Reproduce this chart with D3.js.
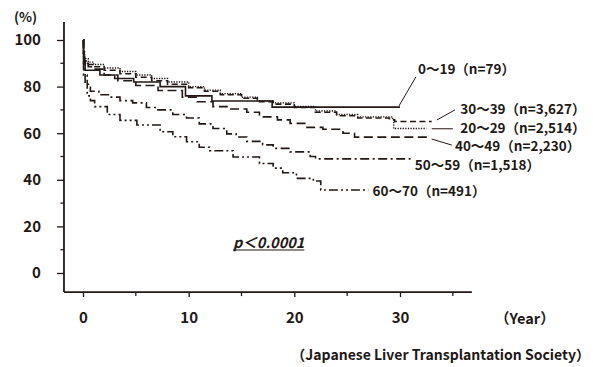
<!DOCTYPE html>
<html>
<head>
<meta charset="utf-8">
<script src="https://cdn.jsdelivr.net/npm/d3@7"></script>
<style>
  body { margin: 0; background: #fff; }
  text { font-family: "Noto Sans CJK JP", "Noto Sans", sans-serif; fill: #231815; }
</style>
</head>
<body>
<div id="chart"></div>
<script>
// survival curves, [year, %] step points
var age0_19 = [[0,100],[0.05,95],[0.1,91],[0.2,87],[1.6,85],[3.0,83.5],[4.8,82],[7.3,80],[9.7,76],[12.2,73.8],[17.9,71.2],[30,71.2]];
var age20_29 = [[0,100],[0.05,95],[0.15,92],[0.5,90.5],[1,89.5],[2,88],[3.5,86.5],[5,85],[6.5,83.5],[8,82],[10,80],[11.5,78.5],[13,77],[15,75.5],[16.5,74],[18,73],[20,71.5],[22,69.5],[24,68],[26,67],[29.3,66],[29.4,62],[32.5,62]];
var age30_39 = [[0,100],[0.05,94],[0.15,91],[0.5,89.5],[1,88.5],[2,87],[3.5,85.5],[5,84],[6.5,82.5],[8,81],[10,79.5],[11.5,78],[13,76.5],[15,75],[16.5,73.5],[18,72.5],[20,71],[22,69],[24,67.5],[26,66.5],[29,65.8],[29.5,65],[33,65]];
var age40_49 = [[0,100],[0.05,93],[0.15,90],[0.5,88.5],[1,87.5],[2,85],[3.3,82.5],[5,80.5],[7.1,78.3],[9.4,75.5],[10.8,73.5],[12.3,71.4],[13.9,70.4],[15.5,69],[16.7,67],[18.4,65.7],[19.6,64.2],[21.2,62.5],[22.7,61.7],[24.6,60],[25.7,58.3],[32.6,58.3]];
var age50_59 = [[0,100],[0.05,90],[0.2,81],[0.7,78],[1.5,76.5],[2.5,75.5],[3.5,74],[4.7,73],[6,71],[7,70],[8.5,68],[9.8,66.5],[11,64],[12.3,62],[13.6,59.7],[14.5,58.4],[15.5,56.5],[17,55],[18,53.5],[19.6,52],[21.5,50],[22,49],[31,49]];
var age60_70 = [[0,100],[0.05,85],[0.4,76],[0.7,74],[1.1,71.4],[2.3,68],[3.5,65.5],[5.1,63.5],[7.3,60.6],[8.5,58.5],[9.8,56.3],[11,54],[12,52.5],[14.2,49.8],[16.7,47],[18,45],[18.9,43],[20.2,40.6],[21.8,39.5],[22.5,35.6],[27,35.6]];

var groupNames = ["0〜19（n=79）", "20〜29（n=2,514）", "30〜39（n=3,627）", "40〜49（n=2,230）", "50〜59（n=1,518）", "60〜70（n=491）"];
var groupCurves = [age0_19, age20_29, age30_39, age40_49, age50_59, age60_70];
// label anchor [year, %] and leader line [from year, from %, to year, to %]
var labelPos = [[31.7,87.5],[35.7,62.2],[35.7,70.4],[35.2,54.5],[31.4,46.4],[27.4,35.2]];
var leaders = [[31.5,84.1,29.9,71.7],[35.0,61.9,33.0,61.9],[35.2,70.0,33.5,65.7],[34.9,54.9,33.0,57.5],null,null];

var yTicks = [0, 20, 40, 60, 80, 100];
var yMinor = [10, 30, 50, 70, 90];
var xTicks = [0, 10, 20, 30];
var xMinor = [5, 15, 25, 35];

var dashes = [null, "1.3,1.3", "6,3.5", "9,4.5", "9,3.5,2,3.5", "9,3,2,3,2,3"];

var svgWidth = 593, svgHeight = 367;
var ink = "#231815";

var svg = d3.select("#chart").append("svg")
  .attr("width", svgWidth)
  .attr("height", svgHeight);

var x = d3.scaleLinear().domain([0, 30]).range([83, 400]);
var y = d3.scaleLinear().domain([0, 100]).range([273, 40]);

// y axis
var yAxis = svg.append("g")
  .attr("transform", "translate(" + x(-1.8) + ",0)")
  .call(d3.axisLeft(y).tickValues(yTicks).tickSize(7).tickPadding(16));
yAxis.select(".domain").remove();
yAxis.selectAll(".tick line").attr("stroke", ink).attr("stroke-width", 1.3);
yAxis.selectAll(".tick text")
  .style("font-size", "15px").style("font-weight", 700).attr("fill", ink);
svg.append("g").selectAll("line")
  .data(yMinor).enter().append("line")
  .attr("x1", x(-1.8) - 3.5).attr("x2", x(-1.8))
  .attr("y1", d => y(d)).attr("y2", d => y(d))
  .attr("stroke", ink).attr("stroke-width", 1.3);
svg.append("line")
  .attr("x1", x(-1.8)).attr("x2", x(-1.8))
  .attr("y1", y(107.7)).attr("y2", y(-8.2))
  .attr("stroke", ink).attr("stroke-width", 1.8);

// x axis
var xAxis = svg.append("g")
  .attr("transform", "translate(0," + y(-8.2) + ")")
  .call(d3.axisBottom(x).tickValues(xTicks).tickSize(5).tickPadding(15).tickFormat(d3.format("d")));
xAxis.select(".domain").remove();
xAxis.selectAll(".tick line").attr("stroke", ink).attr("stroke-width", 1.3);
xAxis.selectAll(".tick text")
  .style("font-size", "15px").style("font-weight", 700).attr("fill", ink);
svg.append("g").selectAll("line")
  .data(xMinor).enter().append("line")
  .attr("x1", d => x(d)).attr("x2", d => x(d))
  .attr("y1", y(-8.2)).attr("y2", y(-8.2) + 4)
  .attr("stroke", ink).attr("stroke-width", 1.3);
svg.append("line")
  .attr("x1", x(-1.8)).attr("x2", x(36.8))
  .attr("y1", y(-8.2)).attr("y2", y(-8.2))
  .attr("stroke", ink).attr("stroke-width", 1.8);

// curves
var line = d3.line()
  .x(d => x(d[0]))
  .y(d => y(d[1]))
  .curve(d3.curveStepAfter);

svg.append("g").selectAll("path")
  .data(groupCurves).enter().append("path")
  .attr("d", line)
  .attr("fill", "none")
  .attr("stroke", ink)
  .attr("stroke-width", (d, i) => i == 1 ? 1.4 : 1.6)
  .attr("stroke-dasharray", (d, i) => dashes[i]);

// labels + leaders
svg.append("g").selectAll("line")
  .data(leaders.filter(d => d)).enter().append("line")
  .attr("x1", d => x(d[0])).attr("y1", d => y(d[1]))
  .attr("x2", d => x(d[2])).attr("y2", d => y(d[3]))
  .attr("stroke", ink).attr("stroke-width", 1);

svg.append("g").selectAll("text")
  .data(groupNames).enter().append("text")
  .attr("x", (d, i) => x(labelPos[i][0]))
  .attr("y", (d, i) => y(labelPos[i][1]))
  .attr("dy", "0.36em")
  .style("font-size", "13.5px")
  .style("font-weight", 700)
  .text(d => d);

svg.append("text")
  .attr("x", 14).attr("y", 17).attr("dy", "0.36em")
  .style("font-size", "13.5px").style("font-weight", 700)
  .text("(%)");

svg.append("text")
  .attr("x", 495).attr("y", 319).attr("dy", "0.36em")
  .style("font-size", "14.5px").style("font-weight", 700)
  .text("（Year）");

svg.append("text")
  .attr("x", 590).attr("y", 355).attr("dy", "0.36em")
  .attr("text-anchor", "end")
  .style("font-size", "14px").style("font-weight", 700)
  .text("（Japanese Liver Transplantation Society）");

// p value
var pText = svg.append("text")
  .attr("x", 233).attr("y", 243).attr("dy", "0.36em")
  .style("font-size", "14.5px").style("font-style", "italic").style("font-weight", 700);
pText.append("tspan").text("p");
pText.append("tspan").text("＜0.0001");
var pw = pText.node().getComputedTextLength();
svg.append("line")
  .attr("x1", 233).attr("x2", 233 + pw)
  .attr("y1", 250).attr("y2", 250)
  .attr("stroke", ink).attr("stroke-width", 1.1);
</script>
</body>
</html>
